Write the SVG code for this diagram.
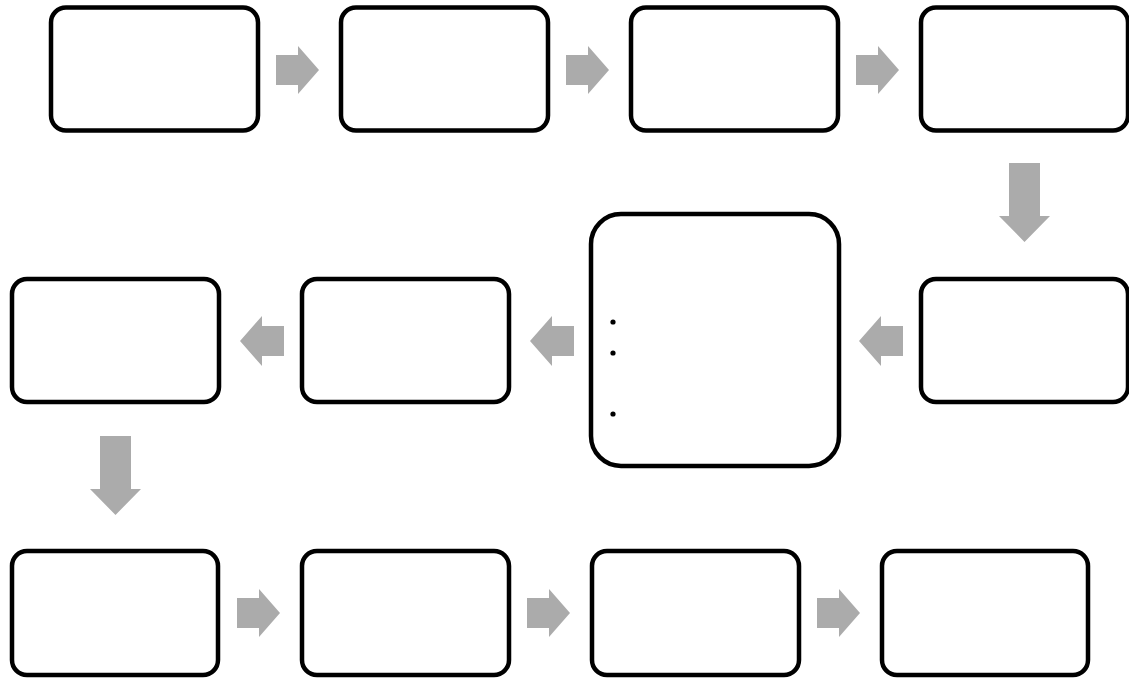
<svg xmlns="http://www.w3.org/2000/svg" width="1129" height="680" viewBox="0 0 1129 680">
<style>
.box{fill:#fff;stroke:#000;stroke-width:4.5}
.arr{fill:#ababab}
</style>
<defs>
<path id="ar" class="arr" d="M0,-15 H22 V-24 L43,0 L22,24 V15 H0 Z"/>
<path id="al" class="arr" d="M0,-15 H-22 V-25 L-44,0 L-22,25 V15 H0 Z"/>
<path id="ad" class="arr" d="M-15.5,0 H15.5 V53 H25.5 L0,79 L-25.5,53 H-15.5 Z"/>
</defs>
<rect width="1129" height="680" fill="#fff"/>
<g id="n1"><rect class="box" x="51" y="7.5" width="207" height="123" rx="15"/></g>
<g id="n2"><rect class="box" x="341" y="7.5" width="207" height="123" rx="15"/></g>
<g id="n3"><rect class="box" x="631" y="7.5" width="207" height="123" rx="15"/></g>
<g id="n4"><rect class="box" x="921" y="7.5" width="207" height="123" rx="15"/></g>
<g id="n5"><rect class="box" x="921" y="279" width="207" height="123" rx="15"/></g>
<g id="n6"><rect class="box" x="591" y="214" width="248" height="252" rx="30"/>
<circle cx="613" cy="322" r="2.6"/><circle cx="613" cy="353" r="2.6"/><circle cx="613" cy="414" r="2.6"/></g>
<g id="n7"><rect class="box" x="302" y="279" width="207" height="123" rx="15"/></g>
<g id="n8"><rect class="box" x="12" y="279" width="207" height="123" rx="15"/></g>
<g id="n9"><rect class="box" x="12" y="551" width="206" height="124" rx="15"/></g>
<g id="n10"><rect class="box" x="302" y="551" width="207" height="124" rx="15"/></g>
<g id="n11"><rect class="box" x="592" y="551" width="207" height="124" rx="15"/></g>
<g id="n12"><rect class="box" x="882" y="551" width="206" height="124" rx="15"/></g>
<g id="connectors">
<use href="#ar" x="276" y="70"/>
<use href="#ar" x="566" y="70"/>
<use href="#ar" x="856" y="70"/>
<use href="#ad" x="1024.5" y="163"/>
<use href="#al" x="903" y="341"/>
<use href="#al" x="574" y="341"/>
<use href="#al" x="284" y="341"/>
<use href="#ad" x="115.5" y="436"/>
<use href="#ar" x="237" y="613"/>
<use href="#ar" x="527" y="613"/>
<use href="#ar" x="817" y="613"/>
</g>
</svg>
